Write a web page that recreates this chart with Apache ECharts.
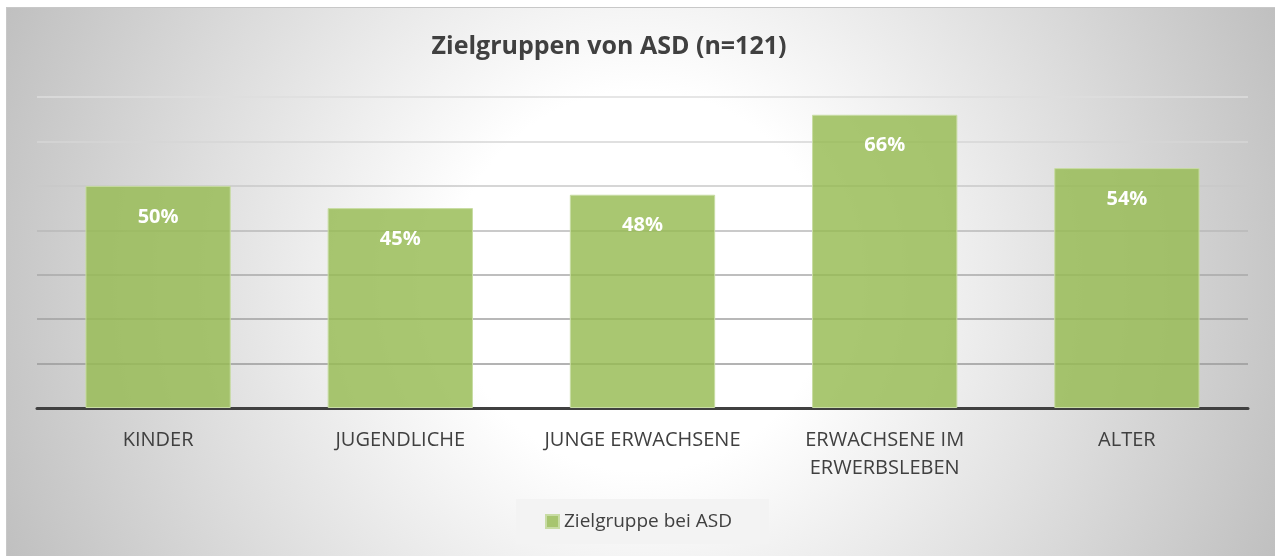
<!DOCTYPE html>
<html>
<head>
<meta charset="utf-8">
<script src="https://cdn.jsdelivr.net/npm/echarts@6/dist/echarts.min.js"></script>
<style>
  html, body { margin: 0; padding: 0; background: #fff; }
  #bg {
    position: absolute; left: 6px; top: 7px; right: 0; bottom: 0;
    border-top: 1px solid #c8c8c8; border-left: 1px solid #c8c8c8;
    background: radial-gradient(circle 720px at 634px 273px, #ffffff 0px, #ffffff 190px, #bcbcbc 720px);
  }
  #main { position: absolute; left: 0; top: 0; width: 1275px; height: 556px; }
</style>
</head>
<body>
<div id="bg"></div>
<div id="main"></div>
<script>
// Daten
var categories = ['KINDER', 'JUGENDLICHE', 'JUNGE ERWACHSENE', 'ERWACHSENE IM\nERWERBSLEBEN', 'ALTER'];
var values = [50, 45, 48, 66, 54];
var seriesName = 'Zielgruppe bei ASD';

var myChart = echarts.init(document.getElementById('main'));
var option = {
    backgroundColor: 'transparent',
    title: {
        text: 'Zielgruppen von ASD (n=121)',
        left: 604,
        textAlign: 'center',
        top: 29,
        textStyle: { fontFamily: 'Open Sans', fontSize: 25, fontWeight: 'bold', color: '#404040' }
    },
    legend: {
        data: [seriesName],
        bottom: 12,
        left: 516,
        backgroundColor: '#f3f3f3',
        padding: [13, 37, 13, 29],
        itemWidth: 13,
        itemHeight: 13,
        itemGap: 4,
        icon: 'rect',
        textStyle: { fontFamily: 'Open Sans', fontSize: 19, color: '#404040' }
    },
    grid: { left: 37, right: 27, top: 97, bottom: 148 },
    xAxis: {
        type: 'category',
        data: categories,
        axisTick: { show: false },
        axisLine: { lineStyle: { color: '#404040', width: 3 } },
        axisLabel: {
            interval: 0,
            hideOverlap: false,
            margin: 18,
            lineHeight: 28,
            fontFamily: 'Open Sans',
            fontSize: 20,
            color: '#404040'
        }
    },
    yAxis: {
        type: 'value',
        min: 0,
        max: 70,
        interval: 10,
        axisLabel: { show: false },
        axisLine: { show: false },
        axisTick: { show: false },
        splitLine: {
            lineStyle: {
                width: 1.5,
                color: ['#9a9a9a', '#9a9a9a', '#a0a0a0', '#a8a8a8', '#b8b8b8', '#c8c8c8', '#d6d6d6', '#dedede']
            }
        }
    },
    series: [{
        name: seriesName,
        type: 'bar',
        data: values,
        barWidth: '60%',
        itemStyle: {
            color: 'rgba(150,187,82,0.82)',
            borderColor: '#c8dca4',
            borderWidth: 1
        },
        label: {
            show: true,
            position: 'insideTop',
            distance: 21,
            formatter: '{c}%',
            fontFamily: 'Open Sans',
            fontSize: 20,
            fontWeight: 'bold',
            color: '#ffffff'
        }
    }]
};
myChart.setOption(option);
</script>
</body>
</html>
